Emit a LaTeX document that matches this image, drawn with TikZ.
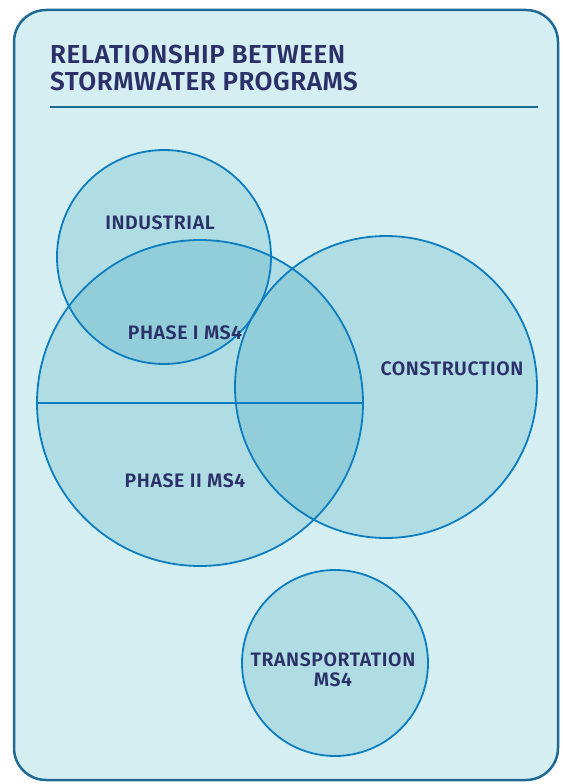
\documentclass[tikz,border=0pt]{standalone}
\usepackage{fontspec}
\setmainfont{Fira Sans}[BoldFont={Fira Sans SemiBold}]
\newfontfamily\lblfont{Fira Sans}[BoldFont={Fira Sans SemiBold}, LetterSpace=3]
\newfontfamily\ttlfont{Fira Sans}[BoldFont={Fira Sans SemiBold}, LetterSpace=2]
\definecolor{bgc}{HTML}{D5EEF2}
\definecolor{circc}{HTML}{B0DDE4}
\definecolor{ovlc}{HTML}{92CED9}
\definecolor{strokec}{HTML}{0C7DC0}
\definecolor{textc}{HTML}{2B3168}
\definecolor{framec}{HTML}{1E6A93}
\tikzset{
  setc/.style={circle, inner sep=0pt, outer sep=0pt, fill=circc, minimum size=#1},
  ring/.style={draw=strokec, line width=1.8pt},
  lbl/.style={text=textc, font=\lblfont\fontsize{19.5}{20}\selectfont\bfseries, align=center, inner sep=0pt},
  ovl/.style={fill=ovlc},
}
\begin{document}
\begin{tikzpicture}[x=1pt,y=-1pt]
\useasboundingbox (0,0) rectangle (562,784);
\draw[fill=bgc, draw=framec, line width=2.5pt, rounded corners=32pt] (14,10) rectangle (558,780);
\node[anchor=base west, text=textc, font=\ttlfont\fontsize{26}{27}\selectfont\bfseries, align=left, inner sep=0pt] (title) at (50,90) {RELATIONSHIP BETWEEN\\STORMWATER PROGRAMS};
\coordinate (ruleL) at (50,107);
\coordinate (ruleR) at (538,107);
\draw[framec, line width=2pt] (ruleL) -- (ruleR);
% circles
\node[setc=214pt] (ind) at (164,257) {};
\node[setc=326pt] (phase) at (200,403) {};
\node[setc=302pt] (cons) at (386,387) {};
\node[setc=186pt] (trans) at (335,663) {};
% overlaps
\begin{scope}
\clip (164,257) circle (107pt);
\fill[ovl] (200,403) circle (163pt);
\fill[ovl] (386,387) circle (151pt);
\end{scope}
\begin{scope}
\clip (200,403) circle (163pt);
\fill[ovl] (386,387) circle (151pt);
\end{scope}
% outlines
\draw[ring] (ind.center) circle (107pt);
\draw[ring] (phase.center) circle (163pt);
\draw[ring] (cons.center) circle (151pt);
\draw[ring] (trans.center) circle (93pt);
\draw[ring] (phase.west) -- (phase.east);
% labels
\node[lbl] (lind) at (160,223) {INDUSTRIAL};
\node[lbl] (lp1) at (185,333) {PHASE I MS4};
\node[lbl] (lcons) at (452,369) {CONSTRUCTION};
\node[lbl] (lp2) at (185,481) {PHASE II MS4};
\node[lbl] (ltrans) at (333,670) {TRANSPORTATION\\MS4};
\end{tikzpicture}
\end{document}
